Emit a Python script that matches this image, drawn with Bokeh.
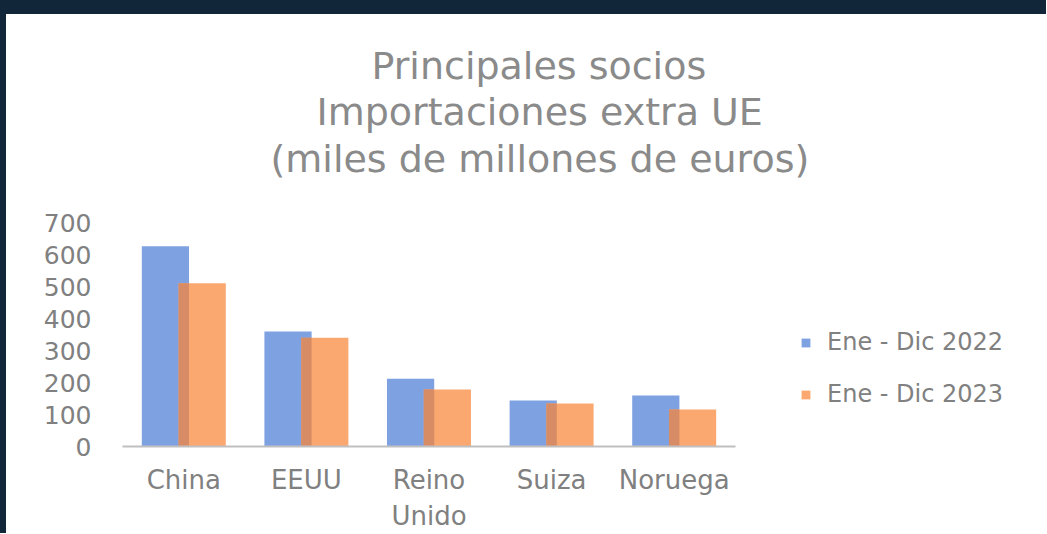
from bokeh.plotting import figure
from bokeh.models import (Range1d, FixedTicker, Legend, LegendItem, Spacer, Title)
from bokeh.layouts import column, row
from bokeh.embed import file_html
from bokeh.resources import INLINE

# ---- data ----
categories = ["China", "EEUU", "Reino\nUnido", "Suiza", "Noruega"]
values_2022 = [626, 359, 212, 144, 159]
values_2023 = [510, 340, 178, 134, 116]
series_labels = ["Ene - Dic 2022", "Ene - Dic 2023"]
y_ticks = [0, 100, 200, 300, 400, 500, 600, 700]
title_lines = ["Principales socios", "Importaciones extra UE", "(miles de millones de euros)"]

# ---- styling ----
FONT = "DejaVu Sans"
GRAY = "#808080"
TITLE_GRAY = "#8a8a8a"
BLUE = "#7ea1e2"
ORANGE = "#fba870"
OVERLAP = "#d88c65"
NAVY = "#12263a"

n = len(categories)
centers = [i + 0.5 for i in range(n)]
bar_w = 0.385
off = 0.15
x22 = [c - off for c in centers]
x23 = [c + off for c in centers]
ov_w = 2 * (bar_w / 2 - off)
ov_top = [min(a, b) for a, b in zip(values_2022, values_2023)]

FW, FH = 924, 224
left, top = 116, 208
cat_px = 122.6

p = figure(frame_width=FW, frame_height=FH, output_backend="svg", toolbar_location=None,
           x_range=Range1d(0, FW / cat_px), y_range=Range1d(0, 700),
           min_border_left=left, min_border_right=0, min_border_top=top,
           min_border_bottom=87)
p.outline_line_color = None
p.background_fill_color = "white"
p.border_fill_color = "white"
p.grid.visible = False

# title: stacked above the frame (nearest first), each line centred on x = 538 px
p.add_layout(Title(text=" ", text_font=FONT, text_font_size="30px", standoff=4), "above")
title_offsets = [249, 194, 148]
title_standoffs = [0, 0, 2]
for line, offx, so in reversed(list(zip(title_lines, title_offsets, title_standoffs))):
    p.add_layout(Title(text=line, align="left", offset=offx, standoff=so,
                       text_font=FONT, text_font_size="38px", text_font_style="normal",
                       text_color=TITLE_GRAY), "above")

r22 = p.vbar(x=x22, top=values_2022, width=bar_w, bottom=0, fill_color=BLUE, line_color=None)
r23 = p.vbar(x=x23, top=values_2023, width=bar_w, bottom=0, fill_color=ORANGE, line_color=None)
p.vbar(x=centers, top=ov_top, width=ov_w, bottom=0, fill_color=OVERLAP, line_color=None)

# axes
xa = p.xaxis[0]
xa.ticker = FixedTicker(ticks=centers)
xa.major_label_overrides = {c: lab for c, lab in zip(centers, categories)}
xa.bounds = (0, n)
xa.axis_line_color = "#bfbfbf"
xa.axis_line_width = 2
xa.major_tick_line_color = None
xa.minor_tick_line_color = None
xa.major_tick_out = 0
xa.minor_tick_out = 0
xa.major_label_text_font = FONT
xa.major_label_text_font_size = "26px"
xa.major_label_text_color = GRAY
xa.major_label_standoff = 18

ya = p.yaxis[0]
ya.ticker = FixedTicker(ticks=y_ticks)
ya.axis_line_color = None
ya.major_tick_line_color = None
ya.minor_tick_line_color = None
ya.major_tick_out = 0
ya.minor_tick_out = 0
ya.major_label_text_font = FONT
ya.major_label_text_font_size = "25px"
ya.major_label_text_color = GRAY
ya.major_label_standoff = 31

legend = Legend(items=[LegendItem(label=series_labels[0], renderers=[r22]),
                       LegendItem(label=series_labels[1], renderers=[r23])],
                location=(678, 38), orientation="vertical")
legend.glyph_width = 11
legend.glyph_height = 11
legend.label_standoff = 16
legend.label_text_font = FONT
legend.label_text_font_size = "24px"
legend.label_text_color = GRAY
legend.spacing = 24
legend.padding = 0
legend.margin = 0
legend.border_line_color = None
legend.background_fill_alpha = 0
p.add_layout(legend)

top_bar = Spacer(width=1046, height=14, styles={"background-color": NAVY})
left_bar = Spacer(width=6, height=519, styles={"background-color": NAVY})
layout = column(top_bar, row(left_bar, p, spacing=0), spacing=0)

open("out.html", "w").write(file_html(layout, INLINE))
